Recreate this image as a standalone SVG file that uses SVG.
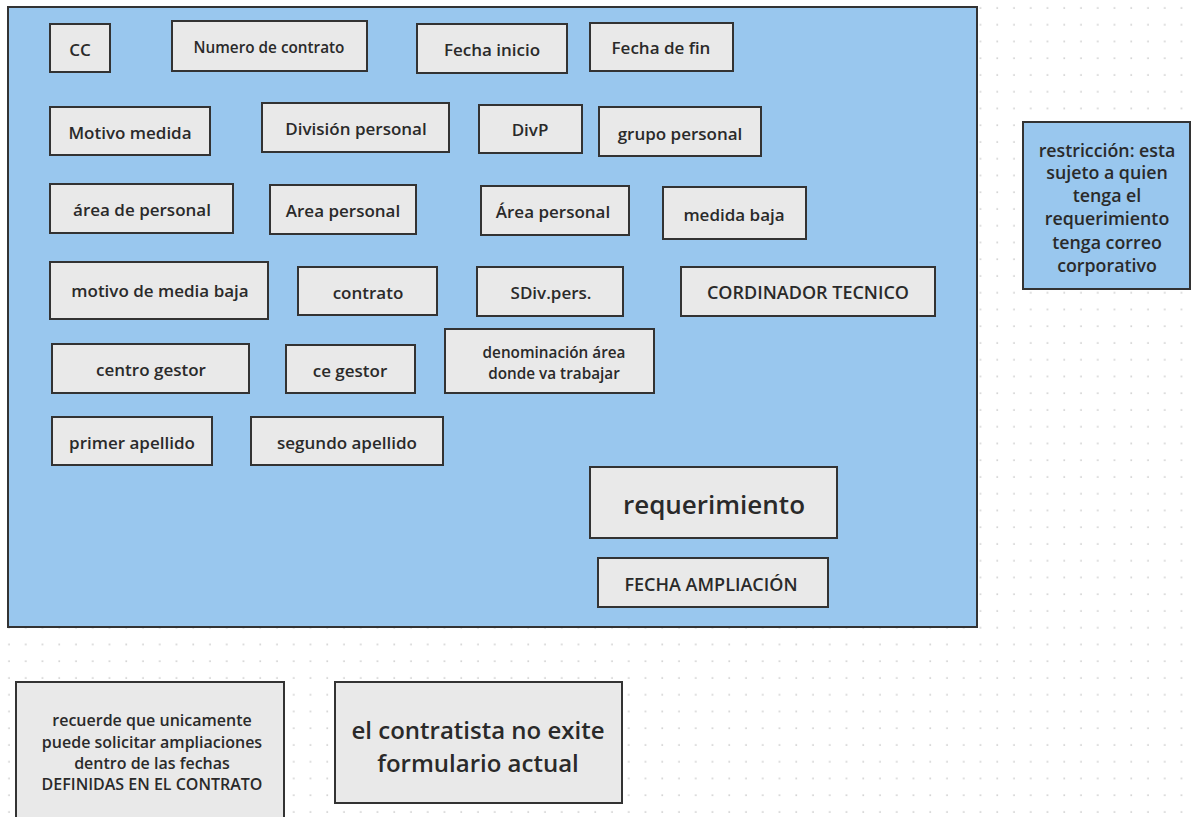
<svg xmlns="http://www.w3.org/2000/svg" width="1197" height="817" viewBox="0 0 1197 817">
<defs>
<pattern id="dots" x="0" y="0" width="16.75" height="16.75" patternUnits="userSpaceOnUse">
<circle cx="9" cy="8" r="0.9" fill="#c8c8c8"/>
</pattern>
<style>
.n{fill:#e9e9e9;stroke:#333;stroke-width:2}
.b{fill:#99c7ee;stroke:#333;stroke-width:2}
text{font-family:"Open Sans","Liberation Sans",sans-serif;font-weight:600;fill:#2a2a2a;text-anchor:middle;dominant-baseline:central}
.m{font-size:17px}
.s{font-size:15.3px}
.r{font-size:17.8px}
.q{font-size:16px}
.c{font-size:18px}
</style>
</defs>
<rect width="1197" height="817" fill="#fff"/>
<rect width="1197" height="817" fill="url(#dots)"/>
<g id="container"><rect class="b" x="8" y="7" width="969" height="620"/></g>
<g id="n-cc"><rect class="n" x="50" y="24" width="60" height="48"/><text class="m" x="80" y="49">CC</text></g>
<g id="n-numero"><rect class="n" x="172" y="21" width="195" height="50"/><text class="s" x="269" y="47">Numero de contrato</text></g>
<g id="n-fechainicio"><rect class="n" x="417" y="24" width="150" height="49"/><text class="m" x="492" y="49">Fecha inicio</text></g>
<g id="n-fechafin"><rect class="n" x="590" y="23" width="143" height="48"/><text class="m" x="661" y="47">Fecha de fin</text></g>
<g id="n-motivo"><rect class="n" x="50" y="107" width="160" height="48"/><text class="m" x="130" y="132">Motivo medida</text></g>
<g id="n-division"><rect class="n" x="262" y="103" width="187" height="49"/><text class="m" x="356" y="128">División personal</text></g>
<g id="n-divp"><rect class="n" x="479" y="105" width="103" height="48"/><text class="m" x="530" y="129">DivP</text></g>
<g id="n-grupo"><rect class="n" x="599" y="107" width="162" height="49"/><text class="m" x="680" y="133">grupo personal</text></g>
<g id="n-areade"><rect class="n" x="50" y="184" width="183" height="49"/><text class="m" x="142" y="209">área de personal</text></g>
<g id="n-area1"><rect class="n" x="270" y="185" width="146" height="49"/><text class="m" x="343" y="210">Area personal</text></g>
<g id="n-area2"><rect class="n" x="481" y="186" width="148" height="49"/><text class="m" x="553" y="211">Área personal</text></g>
<g id="n-medidabaja"><rect class="n" x="663" y="187" width="143" height="52"/><text class="m" x="734" y="214">medida baja</text></g>
<g id="n-motivobaja"><rect class="n" x="50" y="262" width="218" height="57"/><text class="m" x="160" y="290">motivo de media baja</text></g>
<g id="n-contrato"><rect class="n" x="298" y="267" width="139" height="48"/><text class="m" x="368" y="292">contrato</text></g>
<g id="n-sdiv"><rect class="n" x="477" y="267" width="146" height="49"/><text class="m" x="551" y="292">SDiv.pers.</text></g>
<g id="n-cordinador"><rect class="n" x="681" y="267" width="254" height="49"/><text class="c" x="808" y="292">CORDINADOR TECNICO</text></g>
<g id="n-centro"><rect class="n" x="52" y="344" width="197" height="49"/><text class="m" x="151" y="369">centro gestor</text></g>
<g id="n-cegestor"><rect class="n" x="286" y="345" width="129" height="48"/><text class="m" x="350" y="370">ce gestor</text></g>
<g id="n-denominacion"><rect class="n" x="445" y="329" width="209" height="64"/><text class="s" x="554" y="352">denominación área</text><text class="s" x="554" y="373">donde va trabajar</text></g>
<g id="n-primer"><rect class="n" x="52" y="417" width="160" height="48"/><text class="m" x="132" y="442">primer apellido</text></g>
<g id="n-segundo"><rect class="n" x="251" y="417" width="192" height="48"/><text class="m" x="347" y="442">segundo apellido</text></g>
<g id="n-requerimiento"><rect class="n" x="590" y="467" width="247" height="71"/><text x="714" y="504" style="font-size:26px">requerimiento</text></g>
<g id="n-fechaampl"><rect class="n" x="598" y="558" width="230" height="49"/><text class="c" x="711" y="584">FECHA AMPLIACIÓN</text></g>
<g id="n-restriccion"><rect class="b" x="1023" y="122" width="167" height="167"/>
<text class="r" x="1107" y="150">restricción: esta</text>
<text class="r" x="1107" y="172">sujeto a quien</text>
<text class="r" x="1107" y="195">tenga el</text>
<text class="r" x="1107" y="218">requerimiento</text>
<text class="r" x="1107" y="242">tenga correo</text>
<text class="r" x="1107" y="265">corporativo</text></g>
<g id="n-recuerde"><rect class="n" x="16" y="682" width="268" height="140"/>
<text class="q" x="152" y="720">recuerde que unicamente</text>
<text class="q" x="152" y="742">puede solicitar ampliaciones</text>
<text class="q" x="152" y="763">dentro de las fechas</text>
<text class="q" x="152" y="784">DEFINIDAS EN EL CONTRATO</text></g>
<g id="n-contratista"><rect class="n" x="335" y="682" width="287" height="121"/>
<text x="478" y="729" style="font-size:24px">el contratista no exite</text>
<text x="478" y="762" style="font-size:24px">formulario actual</text></g>
<g id="connectors"></g>
</svg>
